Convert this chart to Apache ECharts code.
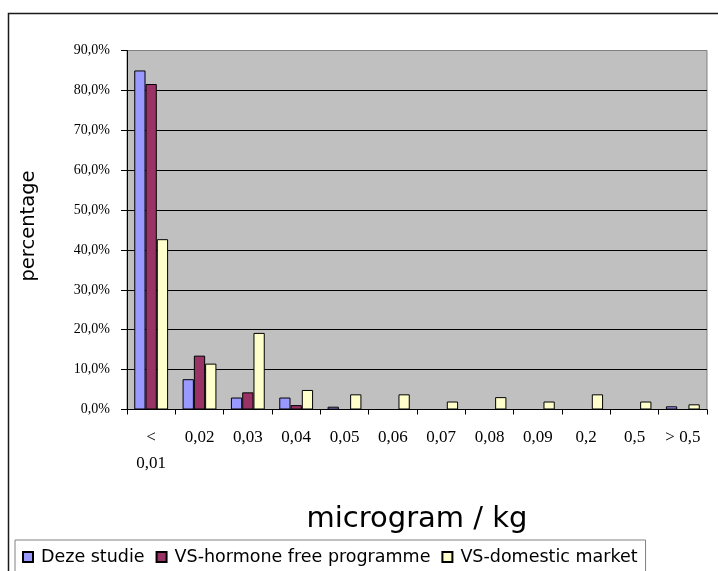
<!DOCTYPE html>
<html>
<head>
<meta charset="utf-8">
<script src="https://cdn.jsdelivr.net/npm/echarts@6/dist/echarts.min.js"></script>
<style>
  html, body { margin: 0; padding: 0; background: #ffffff; }
  #chart { width: 718px; height: 571px; }
</style>
</head>
<body>
<div id="chart"></div>
<script>
// Concentration classes (microgram / kg)
const categories = ['<\n0,01', '0,02', '0,03', '0,04', '0,05', '0,06', '0,07', '0,08', '0,09', '0,2', '0,5', '> 0,5'];

// Share of samples per class, in percent (null = no samples in that class)
const dezeStudie = [85.0, 7.6, 3.0, 3.0, 0.7, null, null, null, null, null, null, 0.8];
const vsHormoneFree = [81.6, 13.5, 4.3, 1.1, null, null, null, null, null, null, null, null];
const vsDomestic = [42.7, 11.5, 19.2, 4.9, 3.8, 3.8, 2.0, 3.1, 2.0, 3.8, 2.0, 1.3];

const seriesNames = ['Deze studie', 'VS-hormone free programme', 'VS-domestic market'];
const seriesColors = ['#9999FF', '#993366', '#FFFFCC'];

// Value axis: 0 % to 90 % in steps of 10 %
const yMin = 0, yMax = 90, yStep = 10;

const serif = '"Liberation Serif", "Times New Roman", serif';
const sans = '"DejaVu Sans", "Liberation Sans", Arial, sans-serif';

const chart = echarts.init(document.getElementById('chart'), null, { renderer: 'canvas' });

function barSeries(name, data, color) {
  return {
    name: name,
    type: 'bar',
    data: data,
    barGap: '0%',
    barCategoryGap: '30%',
    itemStyle: { color: color, borderColor: '#000000', borderWidth: 1 },
    emphasis: { disabled: true }
  };
}

chart.setOption({
  animation: false,
  backgroundColor: '#ffffff',
  grid: {
    left: 127,
    right: 11,
    top: 50.5,
    bottom: 161.5,
    show: true,
    backgroundColor: '#C0C0C0',
    borderColor: '#808080',
    borderWidth: 1
  },
  graphic: [{
    type: 'rect',
    silent: true,
    z: -1,
    shape: { x: 8.5, y: 13.5, width: 800, height: 700 },
    style: { fill: null, stroke: '#1a1a1a', lineWidth: 1.5 }
  }],
  legend: {
    left: 15,
    top: 540,
    orient: 'horizontal',
    padding: [7, 8, 40, 7],
    itemGap: 11,
    itemWidth: 10,
    itemHeight: 10,
    icon: 'rect',
    borderColor: '#808080',
    borderWidth: 1,
    backgroundColor: '#ffffff',
    textStyle: { fontFamily: sans, fontSize: 17.5, color: '#000000', lineHeight: 20, padding: [0, 0, 0, 3] },
    data: seriesNames
  },
  xAxis: {
    type: 'category',
    data: categories,
    name: 'microgram / kg',
    nameLocation: 'middle',
    nameGap: 95,
    nameTextStyle: { fontFamily: sans, fontSize: 29, color: '#000000', lineHeight: 29 },
    axisLine: { lineStyle: { color: '#000000', width: 1 } },
    axisTick: { show: true, length: 5, interval: 0, lineStyle: { color: '#000000' } },
    axisLabel: {
      interval: 0,
      margin: 15,
      fontFamily: serif,
      fontSize: 17,
      lineHeight: 26,
      color: '#000000'
    },
    splitLine: { show: false }
  },
  yAxis: {
    type: 'value',
    min: yMin,
    max: yMax,
    interval: yStep,
    name: 'percentage',
    nameLocation: 'middle',
    nameGap: 88,
    nameTextStyle: { fontFamily: sans, fontSize: 19.5, color: '#000000', padding: [0, 0, 0, 8] },
    axisLine: { show: true, lineStyle: { color: '#000000', width: 1 } },
    axisTick: { show: true, length: 6, lineStyle: { color: '#000000' } },
    axisLabel: {
      margin: 17,
      fontFamily: serif,
      fontSize: 14,
      color: '#000000',
      padding: [0, 0, 6, 0],
      formatter: v => v.toFixed(1).replace('.', ',') + '%'
    },
    splitLine: { show: true, showMinLine: false, showMaxLine: false, lineStyle: { color: '#000000', width: 1 } }
  },
  series: [
    barSeries(seriesNames[0], dezeStudie, seriesColors[0]),
    barSeries(seriesNames[1], vsHormoneFree, seriesColors[1]),
    barSeries(seriesNames[2], vsDomestic, seriesColors[2])
  ]
});
</script>
</body>
</html>
